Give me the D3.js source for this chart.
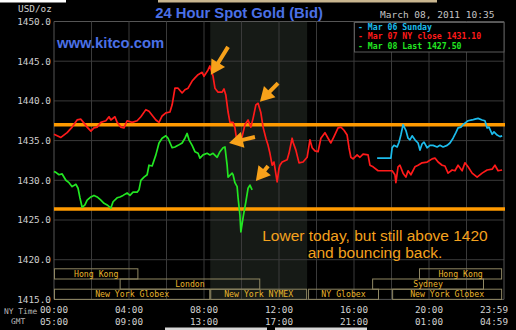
<!DOCTYPE html>
<html>
<head>
<meta charset="utf-8">
<title>24 Hour Spot Gold (Bid)</title>
<script src="https://cdnjs.cloudflare.com/ajax/libs/d3/7.8.5/d3.min.js"></script>
<style>
  html, body { margin: 0; padding: 0; background: #000; }
  svg { display: block; }
</style>
</head>
<body>
<div id="chart"></div>
<script>
// ---- data (minutes after midnight NY time, USD/oz) ----
const yTicks = [1415, 1420, 1425, 1430, 1435, 1440, 1445, 1450];
const timeTicks = [0, 240, 480, 720, 960, 1200, 1439];
const nyLabels = ["00:00", "04:00", "08:00", "12:00", "16:00", "20:00", "23:59"];
const gmtLabels = ["05:00", "09:00", "13:00", "17:00", "21:00", "01:00", "04:59"];

const mar06 = [
  [1034, 1432.8], [1078, 1432.8], [1082, 1434.1], [1088, 1434.4], [1098, 1434.2], [1104, 1434.8],
  [1110, 1435.7], [1117, 1437.0], [1126, 1436.3], [1133, 1435.3], [1139, 1435.1], [1146, 1435.6],
  [1155, 1435.1], [1165, 1434.7], [1171, 1433.8], [1178, 1434.6], [1184, 1434.8], [1194, 1434.1],
  [1203, 1434.4], [1213, 1434.4], [1226, 1434.2], [1235, 1434.4], [1245, 1434.2], [1258, 1434.4],
  [1267, 1434.7], [1277, 1435.3], [1286, 1436.0], [1293, 1436.6], [1302, 1436.7], [1309, 1437.0],
  [1318, 1437.3], [1325, 1437.5], [1338, 1437.6], [1347, 1437.7], [1357, 1437.8], [1370, 1437.6],
  [1379, 1437.5], [1386, 1436.6], [1392, 1436.7], [1402, 1435.8], [1408, 1436.1], [1418, 1435.7],
  [1427, 1435.5], [1434, 1435.6]
];

const mar07 = [
  [0, 1435.8], [22, 1435.4], [42, 1436.0], [58, 1436.7], [74, 1437.6], [86, 1437.7], [96, 1437.2],
  [106, 1436.7], [118, 1436.2], [128, 1436.6], [138, 1436.7], [150, 1437.3], [166, 1437.5],
  [176, 1438.0], [182, 1437.6], [195, 1438.0], [202, 1437.3], [214, 1436.7], [224, 1436.6],
  [234, 1437.5], [250, 1437.3], [266, 1437.5], [278, 1438.0], [294, 1438.9], [304, 1438.7],
  [314, 1438.2], [326, 1437.6], [336, 1437.3], [346, 1438.1], [358, 1438.5], [371, 1438.6],
  [378, 1439.5], [387, 1441.6], [397, 1441.6], [410, 1441.0], [419, 1441.4], [429, 1441.6],
  [442, 1442.5], [451, 1442.9], [461, 1443.3], [474, 1443.6], [480, 1443.1], [493, 1443.9],
  [499, 1444.4], [509, 1443.1], [515, 1441.6], [525, 1441.1], [538, 1441.1], [544, 1441.5],
  [550, 1440.7], [557, 1438.6], [563, 1437.3], [573, 1437.3], [579, 1436.6], [586, 1434.7],
  [595, 1434.4], [602, 1435.5], [611, 1437.0], [621, 1437.6], [630, 1436.7], [637, 1437.8],
  [646, 1439.5], [653, 1439.7], [662, 1438.5], [669, 1436.7], [678, 1435.3], [685, 1434.4],
  [691, 1433.4], [698, 1431.9], [704, 1432.3], [714, 1429.8], [720, 1431.5], [723, 1431.9],
  [730, 1432.3], [746, 1432.6], [752, 1433.4], [762, 1435.3], [765, 1434.8], [774, 1433.8],
  [784, 1432.2], [797, 1432.3], [810, 1432.9], [819, 1435.1], [826, 1434.1], [835, 1433.7],
  [845, 1433.6], [854, 1435.3], [867, 1436.0], [877, 1435.3], [886, 1434.7], [896, 1435.5],
  [909, 1436.6], [918, 1436.7], [928, 1436.3], [938, 1435.7], [944, 1434.1], [950, 1432.9],
  [957, 1432.7], [970, 1433.2], [979, 1432.9], [989, 1433.3], [1005, 1433.2], [1011, 1431.9],
  [1021, 1431.7], [1037, 1431.2], [1082, 1431.2], [1091, 1430.7], [1094, 1429.7], [1101, 1431.7],
  [1107, 1431.9], [1117, 1430.9], [1126, 1430.4], [1133, 1431.2], [1142, 1430.7], [1155, 1431.7],
  [1165, 1431.9], [1178, 1432.2], [1194, 1432.3], [1210, 1432.7], [1219, 1432.8], [1229, 1432.3],
  [1242, 1431.9], [1251, 1431.8], [1261, 1430.9], [1274, 1431.3], [1283, 1431.2], [1293, 1431.9],
  [1306, 1431.2], [1315, 1432.2], [1325, 1431.7], [1338, 1430.9], [1354, 1430.4], [1370, 1430.9],
  [1386, 1431.3], [1402, 1431.4], [1411, 1431.9], [1421, 1431.2], [1434, 1431.3]
];

const mar08 = [
  [0, 1431.1], [6, 1431.0], [16, 1430.7], [26, 1430.8], [38, 1430.0], [48, 1429.7], [58, 1429.2],
  [70, 1429.5], [77, 1429.0], [83, 1427.8], [90, 1426.6], [99, 1426.9], [106, 1427.5], [118, 1427.9],
  [128, 1428.1], [138, 1427.9], [150, 1427.5], [160, 1427.1], [170, 1426.9], [182, 1426.5],
  [189, 1427.3], [202, 1427.8], [211, 1427.9], [221, 1428.1], [234, 1428.4], [243, 1428.1],
  [253, 1428.5], [266, 1428.5], [272, 1428.8], [278, 1430.0], [288, 1430.4], [298, 1430.7],
  [304, 1431.9], [314, 1431.8], [326, 1433.2], [336, 1434.7], [346, 1435.3], [358, 1435.6],
  [365, 1435.3], [378, 1434.1], [387, 1434.2], [397, 1434.4], [410, 1434.7], [419, 1435.3],
  [426, 1435.9], [432, 1435.1], [442, 1434.4], [451, 1433.6], [461, 1433.4], [467, 1432.8],
  [477, 1433.2], [490, 1433.4], [499, 1433.2], [509, 1433.4], [522, 1432.9], [531, 1433.6],
  [541, 1434.1], [547, 1434.2], [554, 1431.9], [557, 1430.4], [570, 1430.9], [573, 1430.7],
  [579, 1429.7], [586, 1429.2], [589, 1427.8], [595, 1425.6], [598, 1423.5], [605, 1425.3],
  [608, 1426.0], [614, 1427.3], [621, 1429.0], [627, 1429.4], [634, 1428.8]
];

const seriesLabels = ["- Mar 06 Sunday", "- Mar 07 NY close 1431.10", "- Mar 08 Last 1427.50"];
const seriesColors = ["#1cbcec", "#ff1a1a", "#22e622"];

// trading sessions: name, start, end, row (0 = top)
const sessions = [
  ["Hong Kong", 0, 270, 0],
  ["London", 210, 660, 1],
  ["New York Globex", 0, 500, 2],
  ["New York NYMEX", 500, 810, 2],
  ["NY Globex", 813, 1040, 2],
  ["Sydney", 1018, 1376, 1],
  ["Hong Kong", 1168, 1434, 0],
  ["New York Globex", 1082, 1434, 2]
];
const nymexHours = [500, 810];

// annotation: support lines and arrows [fromMin, fromPrice, toMin, toPrice]
const levels = [1437.0, 1426.4];
const arrows = [
  [557, 1446.8, 502, 1443.3],
  [717, 1442.25, 659, 1439.9],
  [643, 1435.45, 560, 1434.7],
  [685, 1431.8, 646, 1429.9]
];
const note = ["Lower today, but still above 1420", "and bouncing back."];

// ---- chart ----
const W = 516, H = 330;
const svg = d3.select("#chart").append("svg").attr("width", W).attr("height", H);
svg.append("rect").attr("width", W).attr("height", H).attr("fill", "#000");

const x = d3.scaleLinear().domain([0, 1440]).range([54, 504]);
const y = d3.scaleLinear().domain([1415, 1450]).range([299.4, 21.5]);
const mono = "'DejaVu Sans Mono', monospace";

// screenshot leftovers on the top / bottom edges
svg.append("rect").attr("x", 0).attr("y", 0).attr("width", 66).attr("height", 2.5).attr("fill", "#fff");
svg.append("rect").attr("x", 158).attr("y", 0).attr("width", 279).attr("height", 2.5).attr("fill", "#c9b68f");
svg.append("rect").attr("x", 165).attr("y", 327.5).attr("width", 102).attr("height", 3).attr("fill", "#d6d6d6");
svg.append("rect").attr("x", 275).attr("y", 327.5).attr("width", 92).attr("height", 3).attr("fill", "#d6d6d6");

// NYMEX shading
svg.append("rect")
  .attr("x", x(nymexHours[0])).attr("y", y(1450))
  .attr("width", x(nymexHours[1]) - x(nymexHours[0]))
  .attr("height", y(1415) - y(1450))
  .attr("fill", "#161a16");

// grid
svg.append("g").selectAll("line").data(yTicks).join("line")
  .attr("x1", x(0)).attr("x2", x(1440))
  .attr("y1", d => y(d)).attr("y2", d => y(d))
  .attr("stroke", d => (d === 1415 || d === 1450) ? "#555" : "#3a3a3a").attr("stroke-width", 1);
svg.append("g").selectAll("line").data(d3.range(0, 1441, 120)).join("line")
  .attr("x1", d => x(d)).attr("x2", d => x(d))
  .attr("y1", y(1450)).attr("y2", y(1415))
  .attr("stroke", d => (d === 0 || d === 1440) ? "#555" : "#3a3a3a").attr("stroke-width", 1);

// y labels
svg.append("g").selectAll("text").data(yTicks).join("text")
  .attr("x", 51).attr("y", d => y(d)).attr("dy", "0.36em")
  .attr("text-anchor", "end")
  .style("font-family", mono).style("font-size", "9.4px").attr("fill", "#cfcfcf")
  .text(d => d.toFixed(1));
svg.append("text").attr("x", 18).attr("y", 11.5)
  .style("font-family", mono).style("font-size", "9.4px").attr("fill", "#cfcfcf")
  .text("USD/oz");

// sessions
const rowTop = r => y(1415) - (3 - r) * 10.2;
const sess = svg.append("g");
sess.selectAll("rect").data(sessions).join("rect")
  .attr("x", d => x(d[1]) + 0.5).attr("y", d => rowTop(d[3]))
  .attr("width", d => x(d[2]) - x(d[1]) - 1).attr("height", 10.2)
  .attr("fill", "none").attr("stroke", "#8f8763").attr("stroke-width", 1);
sess.selectAll("text").data(sessions).join("text")
  .attr("x", d => (x(d[1]) + x(d[2])) / 2).attr("y", d => rowTop(d[3]) + 8)
  .attr("text-anchor", "middle")
  .style("font-family", mono).style("font-size", "8.2px").attr("fill", "#e8b52c")
  .text(d => d[0]);

// support lines
svg.append("g").selectAll("line").data(levels).join("line")
  .attr("x1", x(0)).attr("x2", x(1440) + 1)
  .attr("y1", d => y(d)).attr("y2", d => y(d))
  .attr("stroke", "#ff9a00").attr("stroke-width", 3.5);

// price lines
const line = d3.line().x(d => x(d[0])).y(d => y(d[1]));
[mar06, mar07, mar08].forEach((s, i) => {
  svg.append("path").datum(s).attr("d", line)
    .attr("fill", "none").attr("stroke", seriesColors[i])
    .attr("stroke-width", 1.7).attr("stroke-linejoin", "round");
});

// arrows
function arrowPts(a) {
  const x1 = x(a[0]), y1 = y(a[1]), x2 = x(a[2]), y2 = y(a[3]);
  const L = Math.hypot(x2 - x1, y2 - y1), ux = (x2 - x1) / L, uy = (y2 - y1) / L;
  const px = -uy, py = ux, hl = Math.min(14, L * 0.8), hw = 8, sw = 2;
  const bx = x2 - ux * hl, by = y2 - uy * hl;
  return [[x1 + px * sw, y1 + py * sw], [bx + px * sw, by + py * sw], [bx + px * hw, by + py * hw],
    [x2, y2], [bx - px * hw, by - py * hw], [bx - px * sw, by - py * sw], [x1 - px * sw, y1 - py * sw]];
}
svg.append("g").selectAll("polygon").data(arrows).join("polygon")
  .attr("points", d => arrowPts(d).map(p => p.join(",")).join(" "))
  .attr("fill", "#f7a11a");

// legend box
const lg = svg.append("g");
lg.append("rect").attr("x", 354.5).attr("y", 22.5).attr("width", x(1440) - 354.5).attr("height", 29.5)
  .attr("fill", "#000").attr("stroke", "#5a5a5a");
lg.selectAll("text").data(seriesLabels).join("text")
  .attr("x", 358).attr("y", (d, i) => 29.5 + i * 9.9)
  .style("font-family", mono).style("font-size", "8.2px").style("font-weight", "bold")
  .attr("fill", (d, i) => seriesColors[i])
  .text(d => d);

// date
svg.append("text").attr("x", 380).attr("y", 18.3)
  .style("font-family", mono).style("font-size", "9.5px").attr("fill", "#c4c4c4")
  .text("March 08, 2011 10:35");

// title and site
svg.append("text").attr("x", 239).attr("y", 17.5).attr("text-anchor", "middle")
  .style("font-family", "'Liberation Sans', Arial, sans-serif").style("font-size", "14.8px").style("font-weight", "bold")
  .attr("fill", "#4b70e6").text("24 Hour Spot Gold (Bid)");
svg.append("text").attr("x", 57).attr("y", 48.3)
  .style("font-family", "'Liberation Sans', Arial, sans-serif").style("font-size", "14.8px").style("font-weight", "bold")
  .attr("fill", "#4b70e6").text("www.kitco.com");

// note
svg.append("g").selectAll("text").data(note).join("text")
  .attr("x", 375).attr("y", (d, i) => 240.7 + i * 17.5).attr("text-anchor", "middle")
  .style("font-family", "'Liberation Sans', Arial, sans-serif").style("font-size", "15.5px")
  .attr("fill", "#f5a21e").text(d => d);

// time axis
const tg = svg.append("g").style("font-family", mono).style("font-size", "9.3px").attr("fill", "#d2d2d2");
tg.selectAll(".ny").data(timeTicks).join("text").attr("class", "ny")
  .attr("x", (d, i) => i === timeTicks.length - 1 ? 508 : x(d))
  .attr("y", 312.7)
  .attr("text-anchor", (d, i) => i === timeTicks.length - 1 ? "end" : "middle")
  .text((d, i) => nyLabels[i]);
tg.selectAll(".gmt").data(timeTicks).join("text").attr("class", "gmt")
  .attr("x", (d, i) => i === timeTicks.length - 1 ? 508 : x(d))
  .attr("y", 325)
  .attr("text-anchor", (d, i) => i === timeTicks.length - 1 ? "end" : "middle")
  .text((d, i) => gmtLabels[i]);
svg.append("text").attr("x", 4).attr("y", 314)
  .style("font-family", mono).style("font-size", "7.9px").attr("fill", "#b8b8b8").text("NY Time");
svg.append("text").attr("x", 11).attr("y", 324)
  .style("font-family", mono).style("font-size", "7.9px").attr("fill", "#b8b8b8").text("GMT");
</script>
</body>
</html>
